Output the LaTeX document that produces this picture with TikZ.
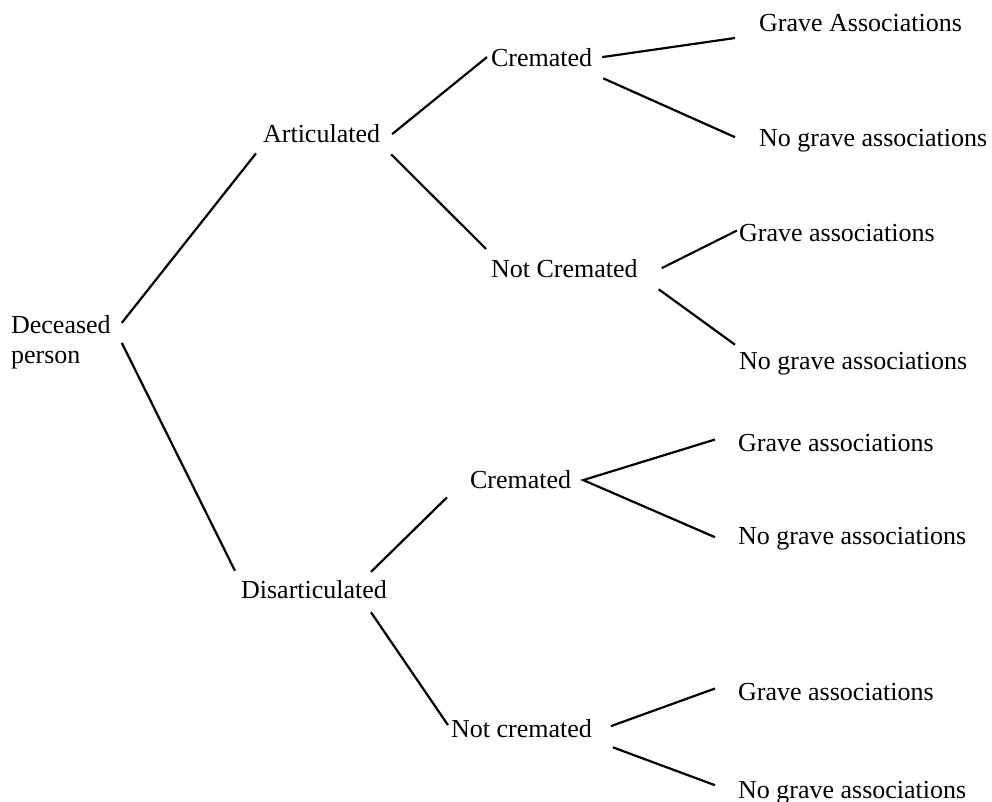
\documentclass[tikz,border=0pt]{standalone}
\usepackage{fontspec}
\setmainfont{Liberation Serif}
\begin{document}
\begin{tikzpicture}[x=0.5pt,y=-0.5pt,line width=1.1pt,
  lbl/.style={inner sep=0pt,anchor=base west,font=\fontsize{13}{15}\selectfont}]
\useasboundingbox (0,0) rectangle (992,802);
\node[lbl,anchor=north west,align=left] (dec) at (10,314) {Deceased\\person};
\node[lbl] (art) at (262,143) {Articulated};
\node[lbl] (dis) at (240,598) {Disarticulated};
\node[lbl] (cre) at (490,67) {Cremated};
\node[lbl] (ncre) at (490,278) {Not Cremated};
\node[lbl] (cre2) at (469,488) {Cremated};
\node[lbl] (ncre2) at (450,737) {Not cremated};
\node[lbl] (ga1) at (758,32) {Grave Associations};
\node[lbl] (ng1) at (758,147) {No grave associations};
\node[lbl] (ga2) at (738,242) {Grave associations};
\node[lbl] (ng2) at (738,370) {No grave associations};
\node[lbl] (ga3) at (737,452) {Grave associations};
\node[lbl] (ng3) at (737,545) {No grave associations};
\node[lbl] (ga4) at (737,700) {Grave associations};
\node[lbl] (ng4) at (737,798) {No grave associations};

\draw ([shift={(10,-19)}]dec.east) -- ([shift={(-6,9)}]art.south west);
\draw ([shift={(10,1)}]dec.east) -- ([shift={(-5,-8)}]dis.north west);

\draw ([shift={(11,0)}]art.east) -- ([shift={(-3,-1)}]cre.west);
\draw ([shift={(10,10)}]art.south east) -- ([shift={(-4,-10)}]ncre.north west);
\draw ([shift={(-17,-7)}]dis.north east) -- ([shift={(-22,8)}]cre2.south west);
\draw ([shift={(-17,13)}]dis.south east) -- ([shift={(-2,-3)}]ncre2.west);

\draw ([shift={(9,-1)}]cre.east) -- ([shift={(-23,6)}]ga1.base west);
\draw ([shift={(10,10)}]cre.south east) -- ([shift={(-23,-4)}]ng1.west);
\draw ([shift={(23,-1)}]ncre.east) -- ([shift={(-1,-3)}]ga2.west);
\draw ([shift={(20,10)}]ncre.south east) -- ([shift={(-3,-7)}]ng2.north west);
\draw ([shift={(-22,-4)}]ga3.west) -- ([shift={(11,1)}]cre2.east)
  -- ([shift={(-22,-2)}]ng3.west);
\draw ([shift={(18,-2)}]ncre2.east) -- ([shift={(-22,-3)}]ga4.west);
\draw ([shift={(20,9)}]ncre2.south east) -- ([shift={(-22,-7)}]ng4.west);
\end{tikzpicture}
\end{document}
